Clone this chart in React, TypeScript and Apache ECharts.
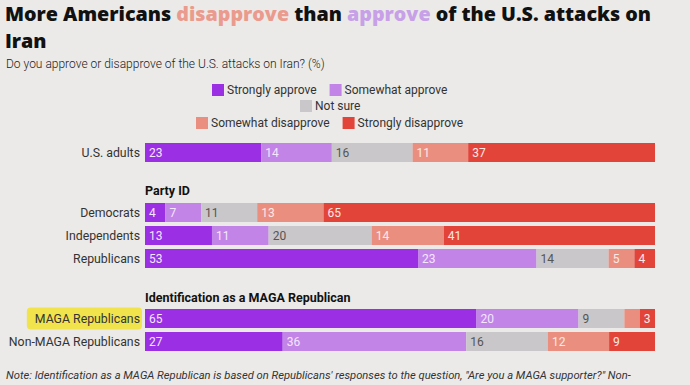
import React, { useEffect, useRef } from "react";
import * as echarts from "echarts";

const responses = ["Strongly approve", "Somewhat approve", "Not sure", "Somewhat disapprove", "Strongly disapprove"];
const colors = ["#9a2fe3", "#c384e8", "#c9c7c9", "#ea8f80", "#e3443a"];
const labelColors = ["#f3e6ff", "#f3e6ff", "#555555", "#fbe9e6", "#fde8e6"];

const rowNames = ["U.S. adults", "Democrats", "Independents", "Republicans", "MAGA Republicans", "Non-MAGA Republicans"];
const usAdults = [23, 14, 16, 11, 37];
const democrats = [4, 7, 11, 13, 65];
const independents = [13, 11, 20, 14, 41];
const republicans = [53, 23, 14, 5, 4];
const maga = [65, 20, 9, 3, 3];
const nonMaga = [27, 36, 16, 12, 9];
const rowValues = [usAdults, democrats, independents, republicans, maga, nonMaga];
const hiddenLabels = [[4, 3]]; // [row, segment]

const rowTops = [143, 203, 226, 249, 309, 332];
const BAR_H = 19;
const FONT = "Roboto, 'Noto Sans', sans-serif";
const TITLE_FONT = "'Open Sans', Roboto, sans-serif";

export default function App() {
  const ref = useRef<HTMLDivElement>(null);
  useEffect(() => {
    document.body.style.margin = "0";
    const chart = echarts.init(ref.current!, null, { renderer: "svg" });
    const grids: any[] = [];
    const xAxes: any[] = [];
    const yAxes: any[] = [];
    const series: any[] = [];
    rowValues.forEach((vals, r) => {
      const sum = vals.reduce((a, b) => a + b, 0);
      grids.push({ left: 145, right: 35, top: rowTops[r], height: BAR_H });
      xAxes.push({ gridIndex: r, type: "value", min: 0, max: sum, show: false });
      const isMaga = rowNames[r] === "MAGA Republicans";
      yAxes.push({
        gridIndex: r,
        type: "category",
        data: [rowNames[r]],
        axisLine: { show: false },
        axisTick: { show: false },
        axisLabel: {
          margin: isMaga ? 3 : 5,
          fontFamily: FONT,
          fontSize: 12.3,
          color: "#333",
          formatter: (v: string) => (isMaga ? `{h|${v}}` : v),
          rich: {
            h: {
              backgroundColor: "#f1e34c",
              padding: [5, 2, 5, 8],
              fontFamily: FONT,
              fontSize: 12.3,
              color: "#333",
              borderRadius: 4,
            },
          },
        },
      });
      vals.forEach((v, s) => {
        const hide = hiddenLabels.some(([hr, hs]) => hr === r && hs === s);
        series.push({
          name: responses[s],
          type: "bar",
          stack: "row" + r,
          xAxisIndex: r,
          yAxisIndex: r,
          barWidth: BAR_H,
          itemStyle: { color: colors[s] },
          label: {
            show: !hide,
            position: "insideLeft",
            distance: 4,
            fontFamily: FONT,
            fontSize: 12,
            color: labelColors[s],
            formatter: "{c}",
          },
          data: [v],
        });
      });
    });

    const legendBase = {
      icon: "rect",
      itemWidth: 12,
      itemHeight: 12,
      itemGap: 13,
      selectedMode: false,
      textStyle: { fontFamily: FONT, fontSize: 12, color: "#333", padding: [0, 0, 0, -2] },
    };

    const t = (color: string) => ({
      fontFamily: TITLE_FONT,
      fontWeight: 800,
      fontSize: 19.7,
      fill: color,
      color,
    });

    chart.setOption({
      animation: false,
      backgroundColor: "#ebeae8",
      legend: [
        { ...legendBase, left: 207, top: 79, data: responses.slice(0, 2) },
        { ...legendBase, left: 295, top: 95, data: responses.slice(2, 3) },
        { ...legendBase, left: 191, top: 112, data: responses.slice(3, 5) },
      ],
      grid: grids,
      xAxis: xAxes,
      yAxis: yAxes,
      series,
      graphic: [
        {
          type: "text",
          x: 5,
          y: 13.5,
          style: {
            text: "{b|More Americans }{d|disapprove}{b| than }{a|approve}{b| of the U.S. attacks on}",
            verticalAlign: "middle",
            rich: { b: t("#111"), d: t("#eb9b8d"), a: t("#c7a0e8") },
          },
        },
        {
          type: "text",
          x: 5,
          y: 40,
          style: {
            text: "Iran",
            verticalAlign: "middle",
            fontFamily: TITLE_FONT,
            fontWeight: 800,
            fontSize: 19.7,
            fill: "#111",
          },
        },
        {
          type: "text",
          left: 6,
          top: 58,
          style: {
            text: "Do you approve or disapprove of the U.S. attacks on Iran? (%)",
            fontFamily: FONT,
            fontWeight: 300,
            fontSize: 12,
            fill: "#222",
          },
        },
        {
          type: "text",
          left: 145,
          top: 184,
          style: { text: "Party ID", fontFamily: FONT, fontWeight: "bold", fontSize: 12.5, fill: "#111" },
        },
        {
          type: "text",
          left: 145,
          top: 291,
          style: {
            text: "Identification as a MAGA Republican",
            fontFamily: FONT,
            fontWeight: "bold",
            fontSize: 12.5,
            fill: "#111",
          },
        },
        {
          type: "text",
          left: 6,
          top: 370,
          style: {
            text:
              "Note: Identification as a MAGA Republican is based on Republicans' responses to the question, \"Are you a MAGA supporter?\" Non-",
            fontFamily: FONT,
            fontStyle: "italic",
            fontSize: 11.2,
            fill: "#333",
          },
        },
      ],
    });
    return () => chart.dispose();
  }, []);
  return <div ref={ref} style={{ width: 690, height: 385 }} />;
}
